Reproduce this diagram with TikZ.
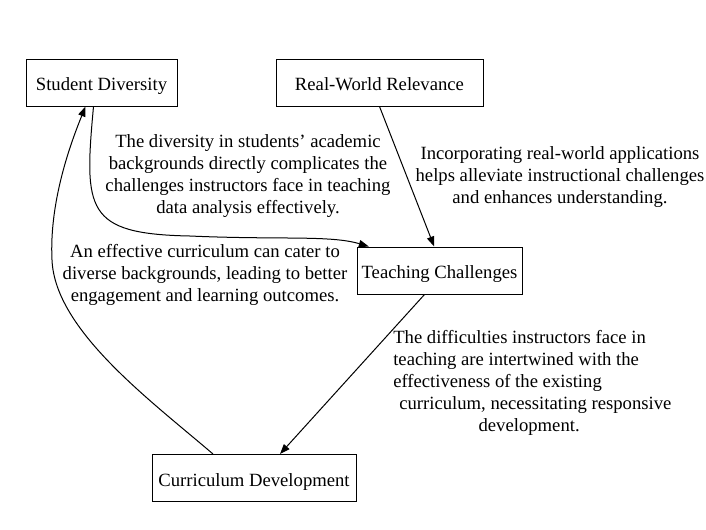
\documentclass[tikz,border=0pt]{standalone}
\usepackage{fontspec}
\setmainfont{Liberation Serif}
\usetikzlibrary{positioning, arrows.meta}

\begin{document}
\begin{tikzpicture}[
      x=0.75pt, y=-0.75pt,
      font=\fontsize{14pt}{16.5pt}\selectfont,
      every node/.style={align=center},
      box/.style={draw, line width=0.75pt, minimum height=35.25pt, inner sep=0pt,
                  text height=12pt, text depth=0pt},
      lbl/.style={inner sep=0pt},
      arr/.style={draw, line width=0.75pt, -{Triangle[length=7.5pt, width=5.5pt]}},
    ]
    \useasboundingbox (0,0) rectangle (706,529);
    % concept boxes
    \node[box, minimum width=113.25pt] (diversity) at (101.5,82.5) {Student Diversity};
    \node[box, minimum width=155.25pt] (relevance) at (379.5,82.5) {Real-World Relevance};
    \node[box, minimum width=123.75pt] (challenges) at (439.5,270.5) {Teaching Challenges};
    \node[box, minimum width=153pt] (curriculum) at (254,478) {Curriculum Development};
    % edges
    \draw[arr] ([xshift=-6pt]diversity.south)
      .. controls (84,210) and (85,234) .. (190,236)
      .. controls (280,240) and (330,235) .. ([xshift=-53pt]challenges.north);
    \draw[arr] (relevance.south) -- ([xshift=-4pt]challenges.north);
    \draw[arr] ([xshift=-11.25pt]challenges.south) -- ([xshift=19.5pt]curriculum.north);
    \draw[arr] ([xshift=-30.75pt]curriculum.north)
      .. controls (150,400) and (55,330) .. (52,260)
      .. controls (49,200) and (72,140) .. ([xshift=-12pt]diversity.south);
    % edge labels
    \node[lbl] (lbldiv) at (248,176) {The diversity in students' academic\\backgrounds directly complicates the\\challenges instructors face in teaching\\data analysis effectively.};
    \node[lbl] (lblrel) at (560,177.5) {Incorporating real-world applications\\helps alleviate instructional challenges\\and enhances understanding.};
    \node[lbl] (lblcur) at (205,274.5) {An effective curriculum can cater to\\diverse backgrounds, leading to better\\engagement and learning outcomes.};
    \node[lbl, align=left, anchor=west] (lblcha) at (393,383) {The difficulties instructors face in\\teaching are intertwined with the\\effectiveness of the existing\\\hspace*{4.5pt}curriculum, necessitating responsive\\\hspace*{64pt}development.};
  \end{tikzpicture}
\end{document}
